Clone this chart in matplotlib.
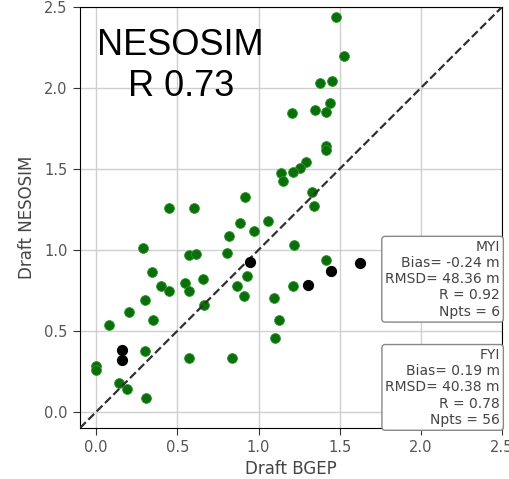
import matplotlib
matplotlib.use("Agg")
import matplotlib.pyplot as plt

# FYI (green) points: BGEP draft vs NESOSIM draft
fyi_bgep = [1.48, 1.525, 1.377, 1.455, 1.44, 1.35, 1.414, 1.208, 1.414, 1.414,
            1.294, 1.257, 1.212, 1.14, 1.15, 1.331, 1.34, 1.057, 0.975, 0.451,
            0.605, 0.914, 0.883, 0.821, 0.286, 0.574, 0.615, 0.343, 0.399, 0.451,
            0.549, 0.574, 0.66, 0.302, 0.204, 0.352, 0.076, 0.667, 0.807, 0.866,
            0.928, 0.909, 0.301, 0.570, 0.838, 0.0, 0.0, 0.142, 0.187, 0.307,
            1.216, 1.414, 1.212, 1.093, 1.125, 1.099]
fyi_nesosim = [2.44, 2.20, 2.03, 2.045, 1.91, 1.864, 1.854, 1.844, 1.642, 1.617,
               1.541, 1.504, 1.48, 1.475, 1.428, 1.36, 1.27, 1.18, 1.119, 1.256,
               1.257, 1.325, 1.165, 1.084, 1.012, 0.97, 0.973, 0.862, 0.78, 0.749,
               0.794, 0.749, 0.821, 0.693, 0.615, 0.564, 0.537, 0.662, 0.981, 0.78,
               0.838, 0.718, 0.374, 0.335, 0.335, 0.28, 0.26, 0.179, 0.142, 0.085,
               1.031, 0.94, 0.776, 0.702, 0.57, 0.455]

# MYI (black) points
myi_bgep = [0.949, 1.449, 1.623, 1.304, 0.16, 0.16]
myi_nesosim = [0.928, 0.868, 0.92, 0.784, 0.38, 0.32]

title_text = "NESOSIM\nR 0.73"
myi_text = "MYI\nBias= -0.24 m\nRMSD= 48.36 m\nR = 0.92\nNpts = 6"
fyi_text = "FYI\nBias= 0.19 m\nRMSD= 40.38 m\nR = 0.78\nNpts = 56"
ticks = [0.0, 0.5, 1.0, 1.5, 2.0, 2.5]
lims = [-0.1, 2.5]

fig = plt.figure(figsize=(5.10, 4.79), dpi=100)
ax = fig.add_axes([80/510, (479-428)/479, 422/510, 421/479])

ax.grid(True, color="#cfcfcf", lw=1.0, zorder=0)
ax.set_axisbelow(True)
ax.scatter(fyi_bgep, fyi_nesosim, s=50, c="#0b6e0b", edgecolors="#2a9a2a",
           linewidths=0.6, zorder=2)
ax.plot(lims, lims, "--", color="#303030", lw=1.6, zorder=3)
ax.scatter(myi_bgep, myi_nesosim, s=50, c="black", zorder=4)

ax.set_xlim(lims)
ax.set_ylim(lims)
ax.set_xticks(ticks)
ax.set_yticks(ticks)
ax.tick_params(labelsize=10.5, colors="#333333", labelcolor="#555555",
               length=5, pad=4)
ax.set_xlabel("Draft BGEP", fontsize=12, color="#444444", labelpad=3)
ax.set_ylabel("Draft NESOSIM", fontsize=12, color="#444444", labelpad=6)

ax.text(0.52, 2.135, title_text, ha="center", va="center", multialignment="center",
        fontsize=26, linespacing=1.25, family=["Liberation Sans", "DejaVu Sans"],
        color="black", zorder=5)

box = dict(boxstyle="round,pad=0.25", fc="white", ec="#888888", lw=1.0)
ax.text(0.995, 0.447, myi_text, transform=ax.transAxes, ha="right", va="top",
        multialignment="right", fontsize=10, color="#444444", bbox=box, zorder=6,
        clip_on=False)
ax.text(0.995, 0.19, fyi_text, transform=ax.transAxes, ha="right", va="top",
        multialignment="right", fontsize=10, color="#444444", bbox=box, zorder=6,
        clip_on=False)

fig.savefig("out.png", dpi=100)
